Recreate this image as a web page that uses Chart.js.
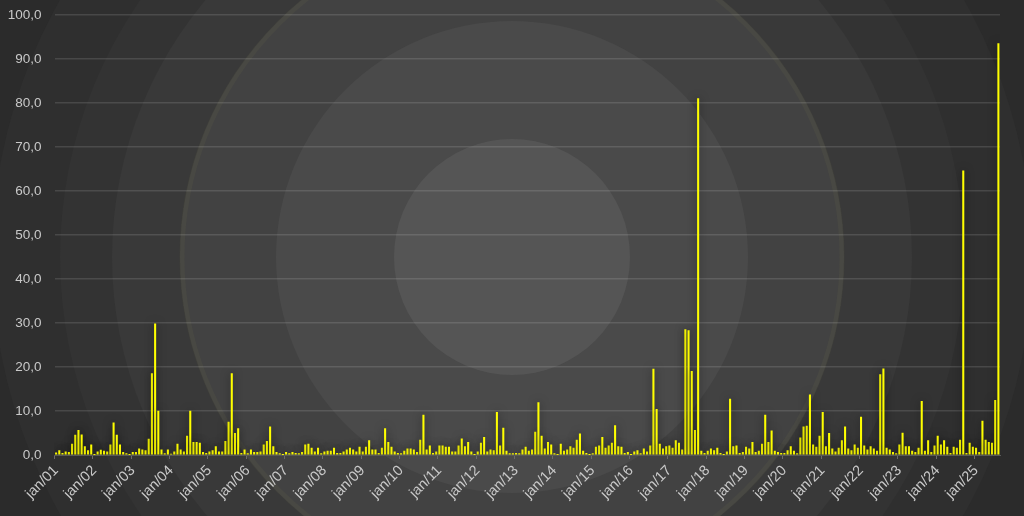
<!DOCTYPE html>
<html><head><meta charset="utf-8">
<script src="https://cdn.jsdelivr.net/npm/chart.js@4.4.1/dist/chart.umd.min.js"></script>
<style>html,body{margin:0;padding:0;background:#2a2a2a;overflow:hidden}#wrap{width:1024px;height:516px;position:relative}</style>
</head><body><div id="wrap"><canvas id="c" width="1024" height="516"></canvas></div>
<script>
const monthNames = ['jan','fev','mar','abr','mai','jun','jul','ago','set','out','nov','dez'];
const startYear = 2001;
const values = [
  0.5,1.0,0.4,0.7,0.6,2.5,4.5,5.6,4.6,1.9,1.0,2.3,
  0.1,0.7,1.1,0.9,0.7,2.3,7.3,4.5,2.3,0.6,0.3,0.1,
  0.6,0.6,1.4,1.2,1.0,3.6,18.5,29.8,10.0,1.2,0.3,1.2,
  0.2,0.7,2.5,1.2,0.7,4.3,10.0,2.9,2.9,2.7,0.6,0.4,
  0.7,1.0,1.9,0.7,0.7,3.1,7.5,18.5,4.9,6.0,0.4,1.2,
  0.3,1.2,0.6,0.6,0.7,2.3,3.1,6.4,1.9,0.6,0.3,0.1,
  0.6,0.3,0.6,0.4,0.3,0.6,2.3,2.5,1.6,0.7,1.6,0.3,
  0.7,0.9,0.9,1.6,0.4,0.4,0.7,1.2,1.6,1.2,0.7,1.8,
  0.7,1.8,3.3,1.2,1.2,0.4,1.6,6.0,2.9,1.8,0.7,0.4,
  0.3,0.9,1.4,1.4,1.2,0.6,3.4,9.1,1.2,2.1,0.4,0.7,
  2.1,2.1,1.8,1.8,0.7,0.7,2.1,3.7,1.9,2.9,0.7,0.1,
  0.7,2.7,4.0,0.7,1.2,1.0,9.7,2.1,6.1,0.9,0.3,0.3,
  0.4,0.3,1.2,1.8,0.9,1.2,5.2,11.9,4.3,1.4,2.9,2.3,
  0.3,0.1,2.5,0.9,1.2,1.9,1.6,3.4,4.8,0.9,0.4,0.1,
  0.3,1.8,2.1,4.0,1.6,2.1,2.7,6.7,1.9,1.8,0.4,0.6,
  0.1,0.7,1.0,0.3,1.4,0.7,2.1,19.5,10.4,2.5,1.4,1.9,
  2.1,1.6,3.3,2.7,1.2,28.5,28.3,19.0,5.6,81.0,0.9,0.4,
  0.9,1.4,1.0,1.6,0.4,0.1,0.7,12.7,1.9,2.1,0.4,0.6,
  1.8,1.4,2.9,0.6,0.9,2.5,9.1,2.9,5.5,0.9,0.6,0.4,
  0.4,1.0,1.9,0.9,0.3,3.9,6.4,6.6,13.7,2.3,1.8,4.3,
  9.7,1.9,4.9,1.4,0.7,1.6,3.3,6.4,1.4,1.0,2.3,1.6,
  8.6,2.1,1.2,1.9,1.4,0.9,18.3,19.6,1.6,1.2,0.6,0.3,
  2.3,5.0,1.9,1.9,0.9,0.6,1.6,12.2,0.9,3.3,0.6,2.1,
  4.3,2.3,3.3,1.8,0.4,1.8,1.6,3.4,64.6,0.4,2.7,1.8,
  1.6,0.6,7.7,3.4,2.9,2.7,12.4,93.5
];
const yMin = 0, yMax = 100, yStep = 10;
const categories = values.map((v, i) =>
  monthNames[i % 12] + '/' + String((startYear + Math.floor(i / 12)) % 100).padStart(2, '0'));

const bgPlugin = {
  id: 'bg',
  beforeDraw(chart) {
    const ctx = chart.ctx;
    ctx.save();
    ctx.fillStyle = '#282828';
    ctx.fillRect(0, 0, chart.width, chart.height);
    const cx = 512, cy = 257;
    const rings = [[620,'#2b2b2b'],[520,'#2f2f2f'],[452,'#333333'],[400,'#393939'],[332,'#424242'],[236,'#4a4a4a'],[118,'#555555']];
    for (const [r, col] of rings) {
      ctx.beginPath(); ctx.arc(cx, cy, r, 0, Math.PI * 2); ctx.fillStyle = col; ctx.fill();
    }
    ctx.beginPath(); ctx.arc(cx, cy, 330, 0, Math.PI * 2);
    ctx.strokeStyle = 'rgba(130,130,80,0.09)'; ctx.lineWidth = 5; ctx.stroke();
    ctx.restore();
  }
};
const shadowPlugin = {
  id: 'shadow',
  beforeDatasetsDraw(chart) {
    const ctx = chart.ctx; ctx.save();
    ctx.shadowColor = 'rgba(0,0,0,0.55)'; ctx.shadowBlur = 8;
  },
  afterDatasetsDraw(chart) { chart.ctx.restore(); }
};

const tickFont = { family: "'Liberation Sans', Arial, sans-serif", size: 13.5 };
const xTickFont = { family: "'Liberation Sans', Arial, sans-serif", size: 14.5 };
new Chart(document.getElementById('c'), {
  type: 'bar',
  data: { labels: categories, datasets: [{ data: values, backgroundColor: '#ffff00', borderWidth: 0, barThickness: 1.4 }] },
  options: {
    responsive: false, animation: false, devicePixelRatio: 1,
    layout: { padding: { top: 15, right: 24, bottom: 0, left: 0 } },
    plugins: { legend: { display: false }, tooltip: { enabled: false } },
    scales: {
      x: {
        offset: true,
        grid: { offset: true, drawOnChartArea: false, drawTicks: true, tickLength: 4, lineWidth: 1,
          color: c => (c.index % 12 === 0 ? '#6a6a6a' : 'rgba(0,0,0,0)') },
        border: { display: true, color: '#585858', width: 1 },
        ticks: { autoSkip: false, minRotation: 45, maxRotation: 45, padding: 3, color: '#c9c9c9', font: xTickFont,
          callback: (v, i) => (i % 12 === 0 ? categories[i] : '') },
        afterFit: s => { s.height = 61; s.paddingLeft = 0; s.paddingRight = 0; }
      },
      y: {
        min: yMin, max: yMax,
        ticks: { stepSize: yStep, padding: 13, color: '#c9c9c9', font: tickFont,
          callback: v => Number(v).toFixed(1).replace('.', ',') },
        grid: { color: 'rgba(255,255,255,0.12)', lineWidth: 1.5, drawTicks: false },
        border: { display: false },
        afterFit: s => { s.width = 54.5; s.paddingTop = 0; s.paddingBottom = 0; }
      }
    }
  },
  plugins: [bgPlugin, shadowPlugin]
});
</script></body></html>
